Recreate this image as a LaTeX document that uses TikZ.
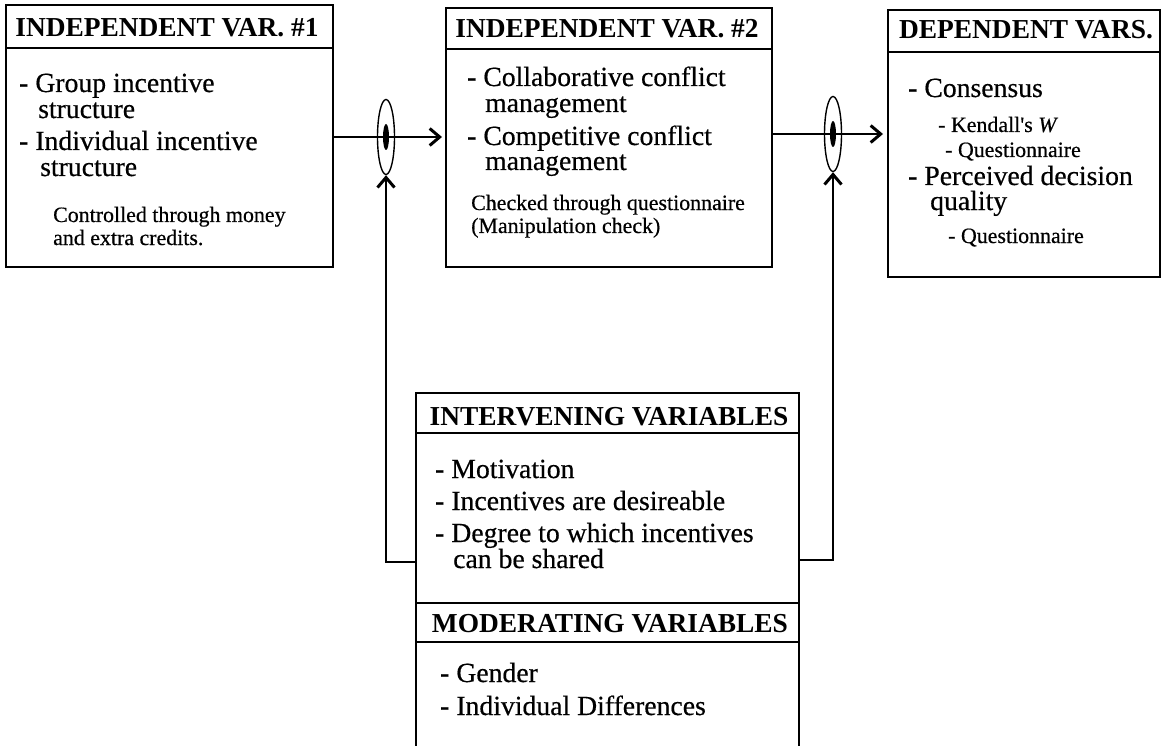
\documentclass[tikz,border=0pt]{standalone}
\usepackage{fontspec}
\setmainfont{Liberation Serif}
\newfontfamily\inkserif[FakeBold=0.5]{Liberation Serif}
\usetikzlibrary{shapes.geometric,arrows.meta}

\newcommand{\ttlfont}{\fontsize{27.4}{28}\selectfont\bfseries}
\newcommand{\itmfont}{\inkserif\fontsize{27.7}{28}\selectfont}
\newcommand{\smlfont}{\inkserif\fontsize{21.9}{23}\selectfont}

\tikzset{
  frame/.style={draw, line width=1.4pt, inner sep=0pt, outer sep=0pt, anchor=north west},
  ttl/.style={font=\ttlfont, anchor=base, inner sep=0pt},
  itm/.style={font=\itmfont, anchor=base west, inner sep=0pt},
  sml/.style={font=\smlfont, anchor=base west, inner sep=0pt},
  link/.style={line width=1.4pt},
  arr/.style={-{Straight Barb[length=10pt,width=17pt,line width=3pt 0]}},
  ring/.style={draw, ellipse, line width=1.4pt, inner sep=0pt, minimum width=17pt, minimum height=75pt},
  core/.style={fill=black, ellipse, inner sep=0pt, minimum width=6pt, minimum height=26pt},
}

\begin{document}
\begin{tikzpicture}[x=1pt,y=-1pt]
\useasboundingbox (0,0) rectangle (1161,746);
\clip (0,0) rectangle (1161,746);
\fill[white] (0,0) rectangle (1161,746);

% ---- Independent variable #1 ----
\node[frame, minimum width=327pt, minimum height=43pt] (t1) at (6,5) {};
\node[frame, minimum width=327pt, minimum height=219pt] (b1) at (6,48) {};
\node[ttl] (t1txt) at (167,37) {INDEPENDENT VAR. \#1};
\node[itm] (b1a) at (19,92) {- Group incentive};
\node[itm] (b1b) at (38,118) {structure};
\node[itm] (b1c) at (19,150) {- Individual incentive};
\node[itm] (b1d) at (40,176) {structure};
\node[sml] (b1e) at (53,222) {Controlled through money};
\node[sml] (b1f) at (53,245) {and extra credits.};

% ---- Independent variable #2 ----
\node[frame, minimum width=326pt, minimum height=41pt] (t2) at (446,8) {};
\node[frame, minimum width=326pt, minimum height=218pt] (b2) at (446,49) {};
\node[ttl] (t2txt) at (607,38) {INDEPENDENT VAR. \#2};
\node[itm] (b2a) at (467,86) {- Collaborative conflict};
\node[itm] (b2b) at (485,112) {management};
\node[itm] (b2c) at (467,145) {- Competitive conflict};
\node[itm] (b2d) at (485,170) {management};
\node[sml] (b2e) at (471,210) {Checked through questionnaire};
\node[sml] (b2f) at (471,233) {(Manipulation check)};

% ---- Dependent variables ----
\node[frame, minimum width=272pt, minimum height=42pt] (t3) at (888,10) {};
\node[frame, minimum width=272pt, minimum height=225pt] (b3) at (888,52) {};
\node[ttl] (t3txt) at (1026,39) {DEPENDENT VARS.};
\node[itm] (b3a) at (908,97) {- Consensus};
\node[sml] (b3b) at (938,132) {- Kendall's \textit{W}};
\node[sml] (b3c) at (945,157) {- Questionnaire};
\node[itm] (b3d) at (908,185) {- Perceived decision};
\node[itm] (b3e) at (930,210) {quality};
\node[sml] (b3f) at (948,243) {- Questionnaire};

% ---- Intervening variables ----
\node[frame, minimum width=383pt, minimum height=40pt] (t4) at (416,393) {};
\node[frame, minimum width=383pt, minimum height=170pt] (iv) at (416,433) {};
\node[ttl] (t4txt) at (609,425) {INTERVENING VARIABLES};
\node[itm] (iva) at (435,478) {- Motivation};
\node[itm] (ivb) at (435,510) {- Incentives are desireable};
\node[itm] (ivc) at (435,542) {- Degree to which incentives};
\node[itm] (ivd) at (453,568) {can be shared};

% ---- Moderating variables ----
\node[frame, minimum width=383pt, minimum height=39pt] (t5) at (416,603) {};
\node[frame, minimum width=383pt, minimum height=130pt] (mv) at (416,642) {};
\node[ttl] (t5txt) at (610,632) {MODERATING VARIABLES};
\node[itm] (mva) at (440,682) {- Gender};
\node[itm] (mvb) at (440,715) {- Individual Differences};

% ---- Junctions ----
\node[ring] (j1) at (386,137) {};
\node[ring] (j2) at (833,134) {};

% ---- Connectors ----
\draw[link, arr, shorten >=4pt] (b1.east |- j1) -- (b2.west |- j1);
\draw[link, arr, shorten >=5pt] (b2.east |- j2) -- (b3.west |- j2);
\path (iv.south west) ++(0,-41) coordinate (ivL);
\path (iv.south east) ++(0,-43) coordinate (ivR);
\draw[link, arr] (ivL) -| (j1.south);
\draw[link, arr] (ivR) -| (j2.south);

\node[core] (j1c) at (j1) {};
\node[core] (j2c) at (j2) {};
\end{tikzpicture}
\end{document}
